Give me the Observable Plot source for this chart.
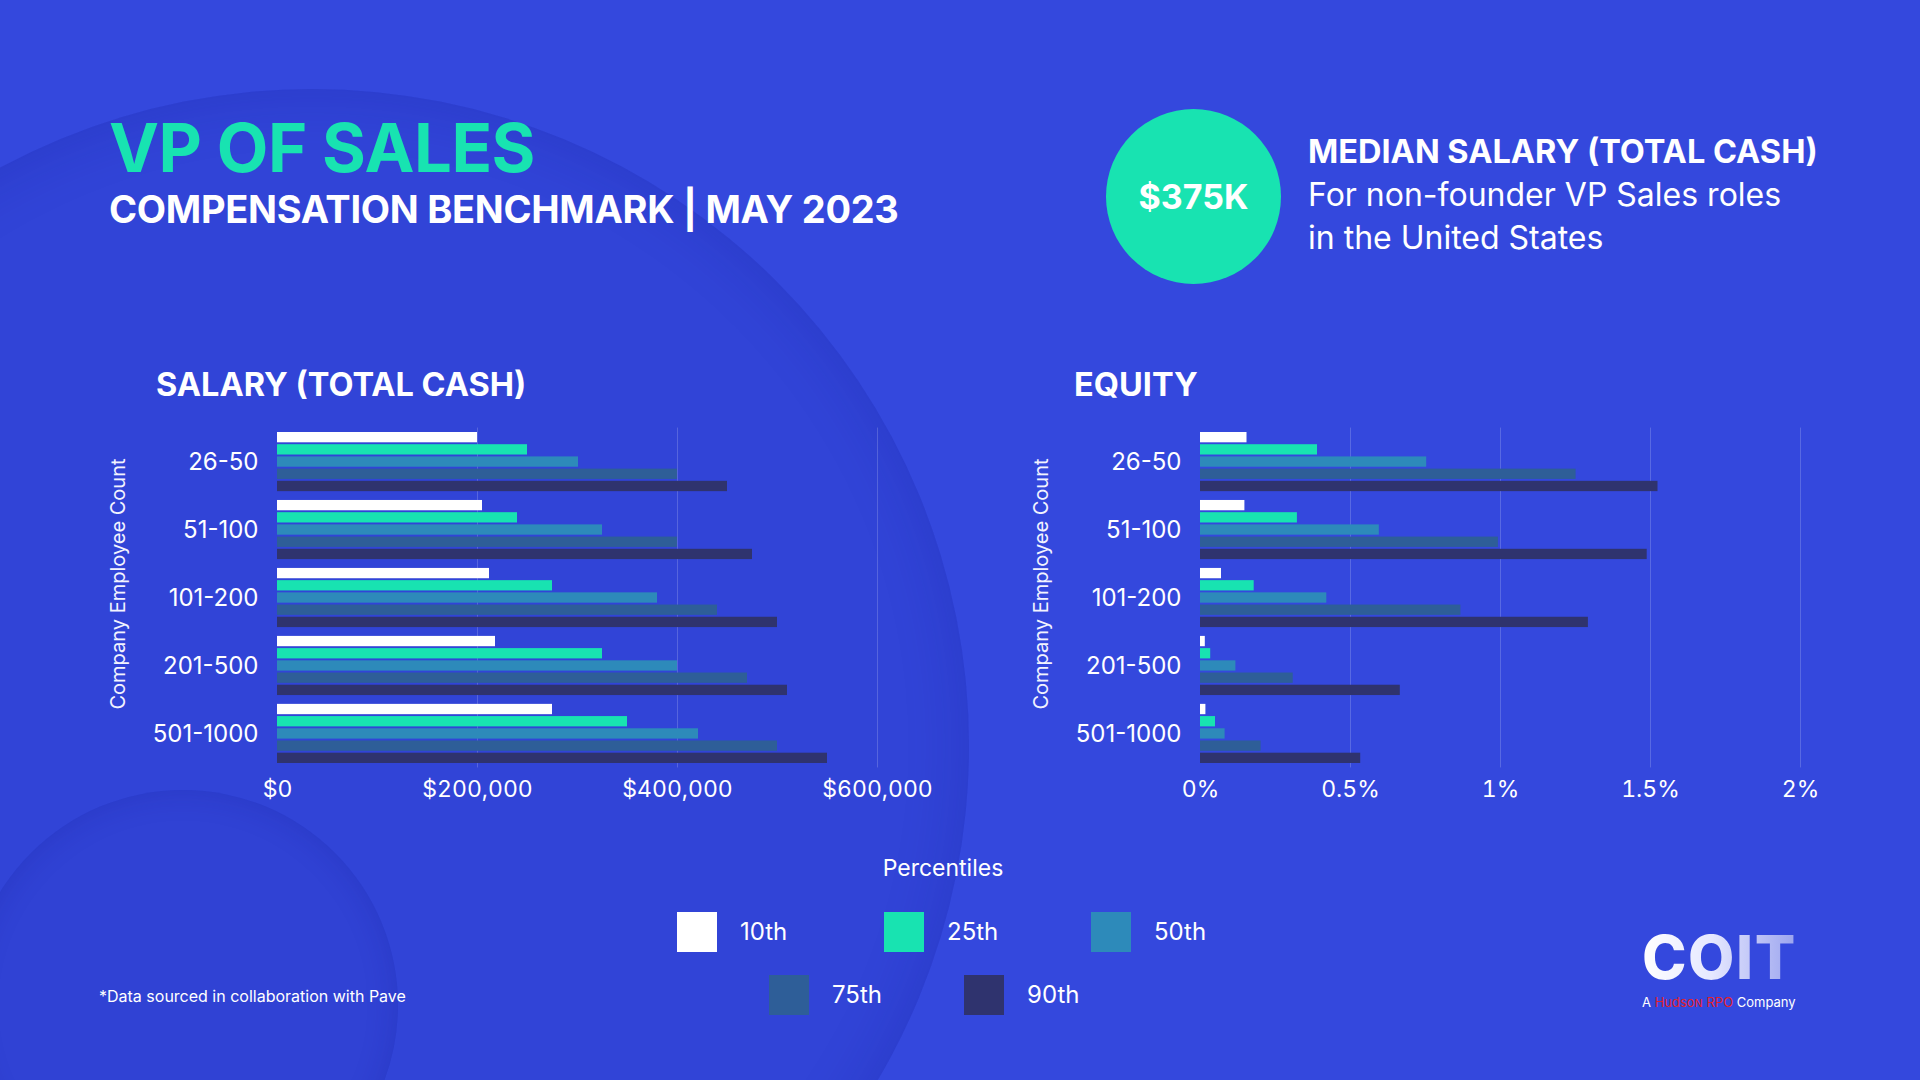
<!DOCTYPE html>
<html>
<head>
<meta charset="utf-8">
<script src="https://cdn.jsdelivr.net/npm/d3@7"></script>
<script src="https://cdn.jsdelivr.net/npm/@observablehq/plot@0.6"></script>
<style>
  html, body { margin: 0; padding: 0; }
  body { width: 1920px; height: 1080px; overflow: hidden; font-family: Inter, "Noto Sans", sans-serif; }
  #page { position: relative; width: 1920px; height: 1080px; background: #3448dd; overflow: hidden; color: #fff; }
  .abs { position: absolute; white-space: nowrap; }
  .deco { position: absolute; border-radius: 50%; }
  #bigc { left: -345px; top: 89px; width: 1314px; height: 1314px;
          background: rgba(22, 28, 150, 0.09);
          box-shadow: inset 0 0 60px rgba(20, 24, 140, 0.22); }
  #smallc { left: -32px; top: 790px; width: 430px; height: 430px;
          background: rgba(22, 28, 150, 0.04);
          box-shadow: inset 0 0 30px rgba(20, 24, 140, 0.22); }
  #title { left: 109px; top: 114px; font-size: 67px; line-height: 1; font-weight: 700; color: #18e3b1; letter-spacing: -0.5px; }
  #subtitle { left: 109px; top: 190px; font-size: 38px; line-height: 1; font-weight: 700; letter-spacing: -0.3px; }
  #bubble { left: 1106px; top: 109px; width: 175px; height: 175px; border-radius: 50%; background: #18e3b1;
            display: flex; align-items: center; justify-content: center; font-size: 34px; font-weight: 700; }
  #median { left: 1308px; top: 130px; font-size: 32px; line-height: 43px; }
  #median b { font-size: 32.5px; }
  .ptitle { font-size: 32.5px; line-height: 1; font-weight: 700; top: 369px; }
  #stitle { left: 156px; }
  #etitle { left: 1074px; }
  .chart { position: absolute; top: 420px; }
  #salary { left: 100px; }
  #equity { left: 1023px; }
  .chart svg { overflow: visible; }
  .chart g[aria-label="fy-axis tick label"] text { font-size: 24px; }
  .ylab { position: absolute; top: 584px; font-size: 20px; line-height: 1; white-space: nowrap;
          transform: translate(-50%, -50%) rotate(-90deg); color: #f2f3ff; }
  #legtitle { left: 843px; width: 200px; text-align: center; top: 854px; font-size: 23px; line-height: 28px; }
  .legrow { position: absolute; display: flex; align-items: center; }
  .legitem { display: flex; align-items: center; }
  .legitem .sw { width: 40px; height: 40px; margin-right: 23px; }
  .legitem span { font-size: 24px; line-height: 1; }
  #foot { left: 99px; top: 986px; font-size: 16px; line-height: 20px; }
  #coit { left: 1642px; top: 931px; font-size: 60px; font-weight: 800; line-height: 52px; height: 52px; letter-spacing: 1.5px;
          background: linear-gradient(90deg, #ffffff 0%, #e6e8ff 45%, #9aa3ee 100%);
          -webkit-background-clip: text; background-clip: text; color: transparent; }
  #hud { left: 1642px; top: 995px; font-size: 13px; line-height: 14px; }
  #hud em { font-style: normal; color: #e3212b; font-variant: small-caps; }
</style>
</head>
<body>
<div id="page">
  <div class="deco" id="bigc"></div>
  <div class="deco" id="smallc"></div>

  <div class="abs" id="title">VP OF SALES</div>
  <div class="abs" id="subtitle">COMPENSATION BENCHMARK | MAY 2023</div>

  <div class="abs" id="bubble">$375K</div>
  <div class="abs" id="median"><b>MEDIAN SALARY (TOTAL CASH)</b><br>For non-founder VP Sales roles<br>in the United States</div>

  <div class="abs ptitle" id="stitle">SALARY (TOTAL CASH)</div>
  <div class="abs ptitle" id="etitle">EQUITY</div>

  <div class="ylab" style="left:118px;">Company Employee Count</div>
  <div class="ylab" style="left:1041px;">Company Employee Count</div>

  <div class="chart" id="salary"></div>
  <div class="chart" id="equity"></div>

  <div class="abs" id="legtitle">Percentiles</div>
  <div class="legrow" id="legrow1" style="left:677px; top:912px;"></div>
  <div class="legrow" id="legrow2" style="left:769px; top:975px;"></div>

  <div class="abs" id="foot">*Data sourced in collaboration with Pave</div>

  <div class="abs" id="coit">COIT</div>
  <div class="abs" id="hud">A <em>Hudson RPO</em> Company</div>
</div>

<script>
// ---- data ----
const categories = ["26-50", "51-100", "101-200", "201-500", "501-1000"];
const percentiles = ["10th", "25th", "50th", "75th", "90th"];
const colors = ["#ffffff", "#18e3b1", "#2d8aba", "#2e5e98", "#2f336e"];

// salary (total cash), USD, per percentile across categories
const salaryP10 = [200000, 205000, 212000, 218000, 275000];
const salaryP25 = [250000, 240000, 275000, 325000, 350000];
const salaryP50 = [301000, 325000, 380000, 400000, 421000];
const salaryP75 = [400000, 400000, 440000, 470000, 500000];
const salaryP90 = [450000, 475000, 500000, 510000, 550000];

// equity, percent, per percentile across categories
const equityP10 = [0.155, 0.148, 0.07, 0.016, 0.018];
const equityP25 = [0.39, 0.323, 0.179, 0.034, 0.05];
const equityP50 = [0.754, 0.596, 0.421, 0.118, 0.082];
const equityP75 = [1.252, 0.993, 0.868, 0.309, 0.202];
const equityP90 = [1.525, 1.489, 1.293, 0.666, 0.534];

const salaryTicks = [0, 200000, 400000, 600000];
const equityTicks = [0, 0.5, 1, 1.5, 2];

// ---- charts ----
function toRows(series) {
  return categories.flatMap((c, i) => percentiles.map((p, j) => ({category: c, percentile: p, value: series[j][i]})));
}

function makeChart(series, ticks, fmt) {
  const data = toRows(series);
  return Plot.plot({
    width: 817,
    height: 393,
    marginLeft: 177,
    marginRight: 40,
    marginTop: 12,
    marginBottom: 50,
    style: {fontFamily: "Inter, sans-serif", fontSize: "23px", color: "white", background: "transparent", overflow: "visible"},
    x: {domain: [ticks[0], ticks[ticks.length - 1]]},
    fy: {domain: categories, paddingInner: 0.13, paddingOuter: 0, round: false},
    y: {domain: percentiles, paddingInner: 0.156, paddingOuter: 0, round: false, axis: null},
    color: {domain: percentiles, range: colors},
    marks: [
      Plot.gridX(ticks.slice(1), {stroke: "white", strokeOpacity: 0.18, strokeWidth: 1, insetTop: -4.45, insetBottom: -4.45}),
      Plot.barX(data, {x: "value", y: "percentile", fy: "category", fill: "percentile"}),
      Plot.axisX(ticks, {tickSize: 0, tickPadding: 17.5, tickFormat: fmt, label: null}),
      Plot.axisFy({anchor: "left", tickSize: 0, tickPadding: 19, label: null})
    ]
  });
}

document.getElementById("salary").append(
  makeChart([salaryP10, salaryP25, salaryP50, salaryP75, salaryP90], salaryTicks, d3.format("$,"))
);
document.getElementById("equity").append(
  makeChart([equityP10, equityP25, equityP50, equityP75, equityP90], equityTicks, d => d + "%")
);

// ---- legend ----
function legendRow(el, idx, itemWidth) {
  const row = d3.select(el);
  idx.forEach((i, k) => {
    const item = row.append("div").attr("class", "legitem");
    if (k < idx.length - 1) item.style("width", itemWidth + "px");
    item.append("div").attr("class", "sw").style("background", colors[i]);
    item.append("span").text(percentiles[i]);
  });
}
legendRow("#legrow1", [0, 1, 2], 207);
legendRow("#legrow2", [3, 4], 195);
</script>
</body>
</html>
